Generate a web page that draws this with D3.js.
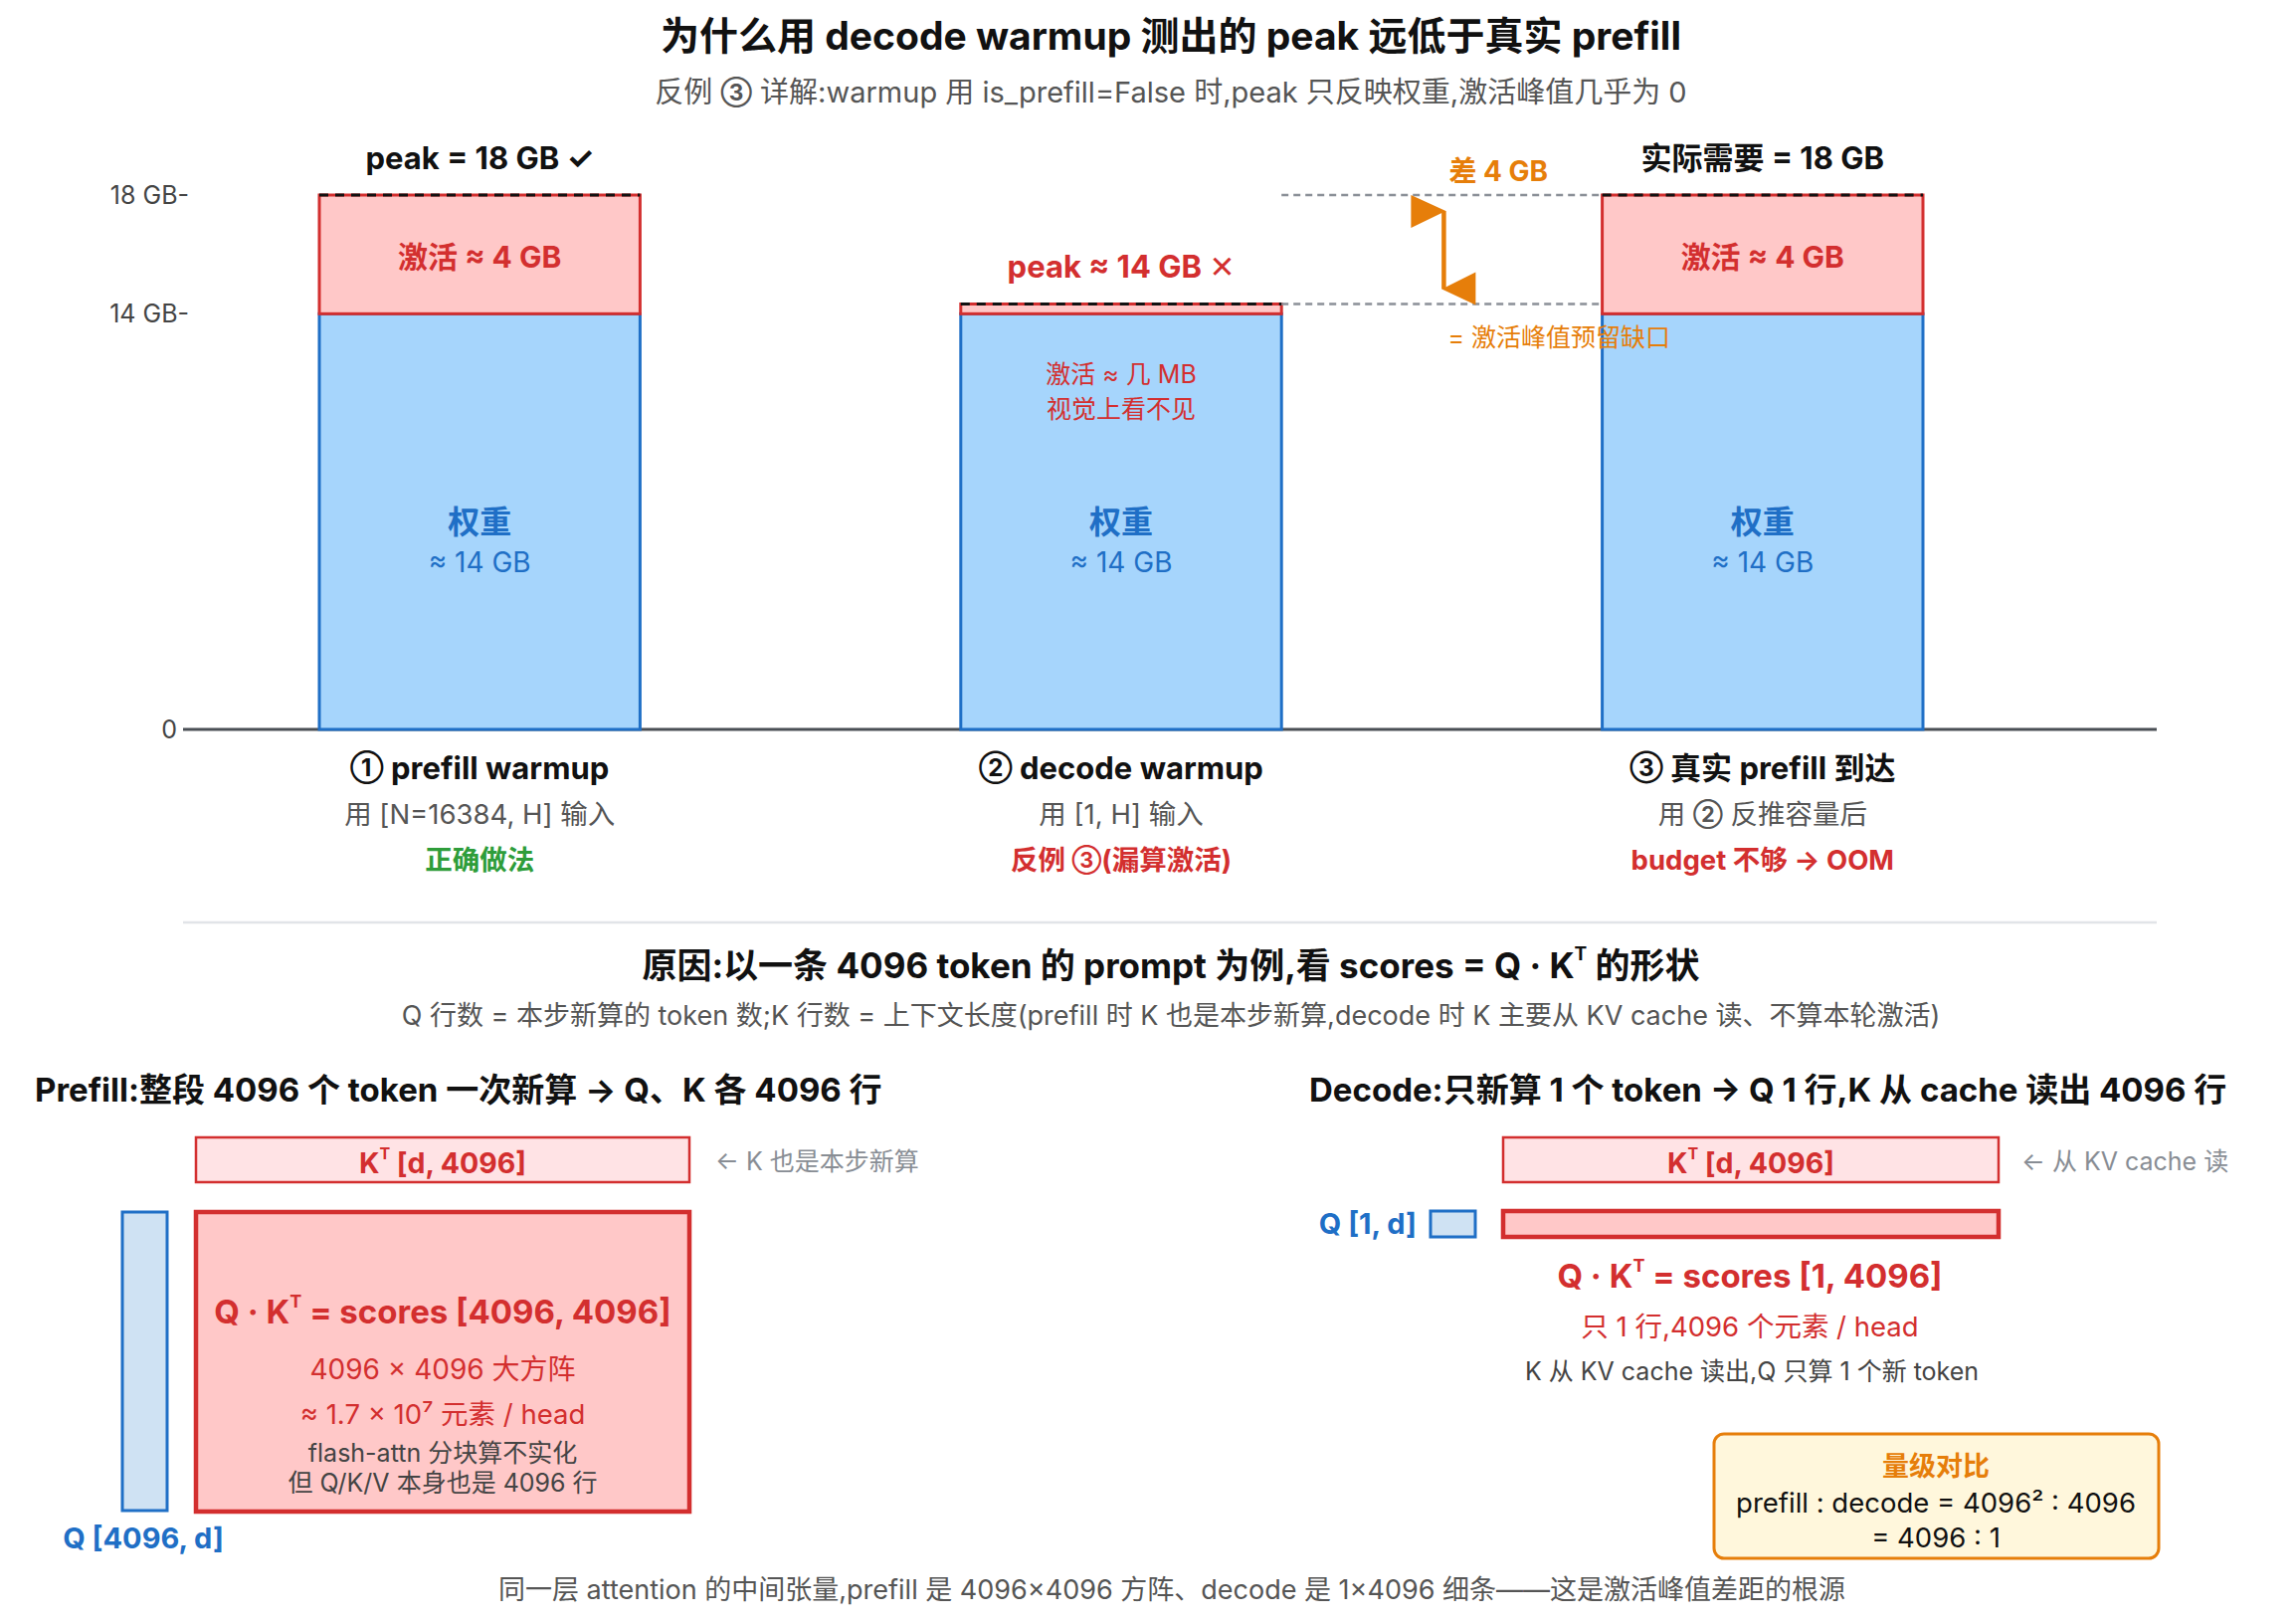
<!DOCTYPE html>
<html>
<head>
<meta charset="utf-8">
<script src="https://cdn.jsdelivr.net/npm/d3@7"></script>
<style>
  html, body { margin: 0; padding: 0; background: #fff; }
  svg { display: block; }
</style>
</head>
<body>
<svg id="chart" width="2308" height="1632"></svg>
<script>
// ---------------- DATA ----------------
const categories   = ["① prefill warmup", "② decode warmup", "③ 真实 prefill 到达"];
const weightsGB    = [14, 14, 14];
const activationGB = [4, 0.33, 4];          // decode: only a few MB, drawn as a thin sliver
const yTickValues  = [0, 14, 18];
const yTickLabels  = ["0", "14 GB-", "18 GB-"];
const topLabels    = ["peak = 18 GB ✓", "peak ≈ 14 GB ✕", "实际需要 = 18 GB"];
const subLabels    = ["用 [N=16384, H] 输入", "用 [1, H] 输入", "用 ② 反推容量后"];
const verdictLabels= ["正确做法", "反例 ③(漏算激活)", "budget 不够 → OOM"];
const activationLabels = ["激活 ≈ 4 GB", "", "激活 ≈ 4 GB"];
const tinyActivationNote = ["激活 ≈ 几 MB", "视觉上看不见"];
const gapLabel     = "差 4 GB";
const gapNote      = "= 激活峰值预留缺口";
const seqLen       = 4096;

// ---------------- STYLE ----------------
const FONT = "Inter, 'DejaVu Sans', 'Noto Sans CJK SC', sans-serif";
const C = {
  text: "#111", gray: "#555", lightGray: "#888d94",
  blueFill: "#a6d5fc", blueStroke: "#1f6fc6", blueText: "#1f6fc6",
  redFill: "#ffc8c8", redStroke: "#d32f2f", redText: "#d32f2f",
  pinkFill: "#ffe3e5", qFill: "#cfe2f3",
  green: "#2e9d3a", orange: "#e67e0a", boxFill: "#fff7dc"
};

const svg = d3.select("#chart");
svg.append("rect").attr("width", 2308).attr("height", 1632).attr("fill", "#fff");

// text helper: circled digits are drawn a bit smaller, like the reference
function txt(g, x, y, s, size, color, weight, anchor) {
  const t = g.append("text")
    .attr("x", x).attr("y", y)
    .attr("font-family", FONT)
    .attr("font-size", size)
    .attr("font-weight", weight || 400)
    .attr("fill", color)
    .attr("text-anchor", anchor || "middle")
    .attr("dominant-baseline", "central");
  const parts = s.split(/([①②③])/);
  parts.forEach(p => {
    if (!p) return;
    if (/[①②③]/.test(p)) {
      t.append("tspan").attr("font-size", size * 0.78).attr("font-weight", 700).text(p);
    } else {
      t.append("tspan").text(p);
    }
  });
  return t;
}

// ---------------- TITLES ----------------
txt(svg, 1177, 35, "为什么用 decode warmup 测出的 peak 远低于真实 prefill", 39, C.text, 700);
txt(svg, 1177, 92, "反例 ③ 详解:warmup 用 is_prefill=False 时,peak 只反映权重,激活峰值几乎为 0", 29, C.gray, 400);

// ---------------- BAR CHART ----------------
const x = d3.scaleBand().domain(categories).range([321, 1933]).paddingInner(0.5).paddingOuter(0);
const y = d3.scaleLinear().domain([0, 18]).range([733, 196]);

const yAxis = d3.axisLeft(y).tickValues(yTickValues).tickSize(0).tickPadding(0)
  .tickFormat(d => yTickLabels[yTickValues.indexOf(d)]);
const yg = svg.append("g").attr("transform", "translate(190,0)").call(yAxis);
yg.select(".domain").remove();
yg.selectAll("text")
  .attr("font-family", FONT).attr("font-size", 25).attr("fill", "#444")
  .attr("dx", d => d === 0 ? -12 : 0);

svg.append("line").attr("x1", 184).attr("x2", 2168).attr("y1", y(0)).attr("y2", y(0))
  .attr("stroke", "#4a4f55").attr("stroke-width", 3);

const bars = svg.append("g");
categories.forEach((c, i) => {
  const x0 = x(c), w = x.bandwidth(), cx = x0 + w / 2;
  const top = weightsGB[i] + activationGB[i];
  bars.append("rect").attr("x", x0).attr("y", y(weightsGB[i]))
    .attr("width", w).attr("height", y(0) - y(weightsGB[i]))
    .attr("fill", C.blueFill).attr("stroke", C.blueStroke).attr("stroke-width", 3);
  bars.append("rect").attr("x", x0).attr("y", y(top))
    .attr("width", w).attr("height", y(weightsGB[i]) - y(top))
    .attr("fill", C.redFill).attr("stroke", C.redStroke).attr("stroke-width", 3);
  bars.append("line").attr("x1", x0).attr("x2", x0 + w).attr("y1", y(top)).attr("y2", y(top))
    .attr("stroke", "#111").attr("stroke-width", 3).attr("stroke-dasharray", "9,7");

  const topColor = i === 1 ? C.redText : C.text;
  txt(bars, cx, y(top) - 38, topLabels[i], 31, topColor, 700);
  if (activationLabels[i]) {
    txt(bars, cx, (y(top) + y(weightsGB[i])) / 2 + 2, activationLabels[i], 30, C.redText, 700);
  } else {
    txt(bars, cx, y(weightsGB[i]) + 61, tinyActivationNote[0], 25, C.redText, 400);
    txt(bars, cx, y(weightsGB[i]) + 96, tinyActivationNote[1], 25, C.redText, 400);
  }
  const mid = (y(0) + y(weightsGB[i])) / 2;
  txt(bars, cx, mid, "权重", 32, C.blueText, 700);
  txt(bars, cx, mid + 41, "≈ " + weightsGB[i] + " GB", 28, C.blueText, 400);

  txt(bars, cx, y(0) + 38, categories[i], 31, C.text, 700);
  txt(bars, cx, y(0) + 85, subLabels[i], 27.5, C.gray, 400);
  txt(bars, cx, y(0) + 131, verdictLabels[i], 27.5, i === 0 ? C.green : C.redText, 700);
});

// gap annotation between bar 2 and bar 3
(function () {
  const xa = x(categories[1]) + x.bandwidth();
  const xb = x(categories[2]);
  const yTop = y(weightsGB[2] + activationGB[2]);
  const yLow = y(weightsGB[1] + activationGB[1]);
  const g = svg.append("g");
  [yTop, yLow].forEach(yy => {
    g.append("line").attr("x1", xa).attr("x2", xb).attr("y1", yy).attr("y2", yy)
      .attr("stroke", "#8a8f97").attr("stroke-width", 2.5).attr("stroke-dasharray", "7,5");
  });
  const ax = (xa + xb) / 2 + 2;
  g.append("line").attr("x1", ax).attr("x2", ax).attr("y1", yTop + 16).attr("y2", yLow - 15)
    .attr("stroke", C.orange).attr("stroke-width", 4.5);
  g.append("path").attr("d", `M${ax - 33},${yTop} L${ax + 2},${yTop + 16} L${ax - 33},${yTop + 33}Z`)
    .attr("fill", C.orange);
  g.append("path").attr("d", `M${ax + 32},${yLow - 32} L${ax - 2},${yLow - 15} L${ax + 32},${yLow + 1}Z`)
    .attr("fill", C.orange);
  txt(g, ax + 5, yTop - 24, gapLabel, 28, C.orange, 700, "start");
  txt(g, ax + 4, yLow + 34, gapNote, 25, C.orange, 400, "start");
})();

svg.append("line").attr("x1", 184).attr("x2", 2168).attr("y1", 927).attr("y2", 927)
  .attr("stroke", "#e1e4e8").attr("stroke-width", 2.5);

// ---------------- SECTION 2 ----------------
const s2 = svg.append("g");

function supText(g, cx, cy, size, before, after, color, anchor) {
  const t = g.append("text").attr("x", cx).attr("y", cy)
    .attr("font-family", FONT).attr("font-size", size).attr("font-weight", 700)
    .attr("fill", color).attr("text-anchor", anchor || "middle").attr("dominant-baseline", "central");
  const up = Math.round(size * 0.33);
  t.append("tspan").text(before);
  t.append("tspan").attr("font-size", Math.round(size * 0.55)).attr("dy", -up).text("T");
  t.append("tspan").attr("dy", up).text(after);
  return t;
}

supText(s2, 1177, 970, 35, "原因:以一条 " + seqLen + " token 的 prompt 为例,看 scores = Q · K", " 的形状", C.text);
txt(s2, 1177, 1020, "Q 行数 = 本步新算的 token 数;K 行数 = 上下文长度(prefill 时 K 也是本步新算,decode 时 K 主要从 KV cache 读、不算本轮激活)", 27, C.gray, 400);

txt(s2, 35, 1095, "Prefill:整段 " + seqLen + " 个 token 一次新算 → Q、K 各 " + seqLen + " 行", 33, C.text, 700, "start");

function kBox(g, x0, x1, y0, y1, label) {
  g.append("rect").attr("x", x0).attr("y", y0).attr("width", x1 - x0).attr("height", y1 - y0)
    .attr("fill", C.pinkFill).attr("stroke", C.redStroke).attr("stroke-width", 2.5);
  supText(g, (x0 + x1) / 2, (y0 + y1) / 2 + 2, 28.5, "K", " " + label, C.redText);
}

kBox(s2, 197, 693, 1143, 1188, "[d, " + seqLen + "]");
txt(s2, 719, 1167, "← K 也是本步新算", 25, C.lightGray, 400, "start");

s2.append("rect").attr("x", 123).attr("y", 1218).attr("width", 45).attr("height", 300)
  .attr("fill", C.qFill).attr("stroke", C.blueStroke).attr("stroke-width", 3);
s2.append("rect").attr("x", 197).attr("y", 1218).attr("width", 496).attr("height", 301)
  .attr("fill", C.redFill).attr("stroke", C.redStroke).attr("stroke-width", 4.5);
supText(s2, 445, 1318, 33, "Q · K", " = scores [" + seqLen + ", " + seqLen + "]", C.redText);
txt(s2, 445, 1376, seqLen + " × " + seqLen + " 大方阵", 28, C.redText, 400);
txt(s2, 445, 1421, "≈ 1.7 × 10⁷ 元素 / head", 27.5, C.redText, 400);
txt(s2, 445, 1460, "flash-attn 分块算不实化", 25, "#444", 400);
txt(s2, 445, 1490, "但 Q/K/V 本身也是 " + seqLen + " 行", 25, "#444", 400);
txt(s2, 144, 1545, "Q [" + seqLen + ", d]", 29, C.blueText, 700);

txt(s2, 1316, 1095, "Decode:只新算 1 个 token → Q 1 行,K 从 cache 读出 " + seqLen + " 行", 33, C.text, 700, "start");
kBox(s2, 1511, 2009, 1143, 1188, "[d, " + seqLen + "]");
txt(s2, 2032, 1167, "← 从 KV cache 读", 25, C.lightGray, 400, "start");

s2.append("rect").attr("x", 1438).attr("y", 1217).attr("width", 45).attr("height", 26)
  .attr("fill", C.qFill).attr("stroke", C.blueStroke).attr("stroke-width", 3);
txt(s2, 1424, 1229, "Q [1, d]", 29, C.blueText, 700, "end");
s2.append("rect").attr("x", 1511).attr("y", 1217).attr("width", 498).attr("height", 26)
  .attr("fill", C.redFill).attr("stroke", C.redStroke).attr("stroke-width", 4.5);
supText(s2, 1759, 1282, 33, "Q · K", " = scores [1, " + seqLen + "]", C.redText);
txt(s2, 1759, 1333, "只 1 行," + seqLen + " 个元素 / head", 27.5, C.redText, 400);
txt(s2, 1761, 1378, "K 从 KV cache 读出,Q 只算 1 个新 token", 25, "#444", 400);

s2.append("rect").attr("x", 1723).attr("y", 1441).attr("width", 447).attr("height", 125)
  .attr("rx", 10).attr("fill", C.boxFill).attr("stroke", C.orange).attr("stroke-width", 3);
txt(s2, 1946, 1473, "量级对比", 27, C.orange, 700);
txt(s2, 1946, 1510, "prefill : decode = " + seqLen + "² : " + seqLen, 27.5, C.text, 400);
txt(s2, 1946, 1545, "= " + seqLen + " : 1", 27.5, C.text, 400);

txt(s2, 1178, 1597, "同一层 attention 的中间张量,prefill 是 4096×4096 方阵、decode 是 1×4096 细条——这是激活峰值差距的根源", 27, C.gray, 400);
</script>
</body>
</html>
